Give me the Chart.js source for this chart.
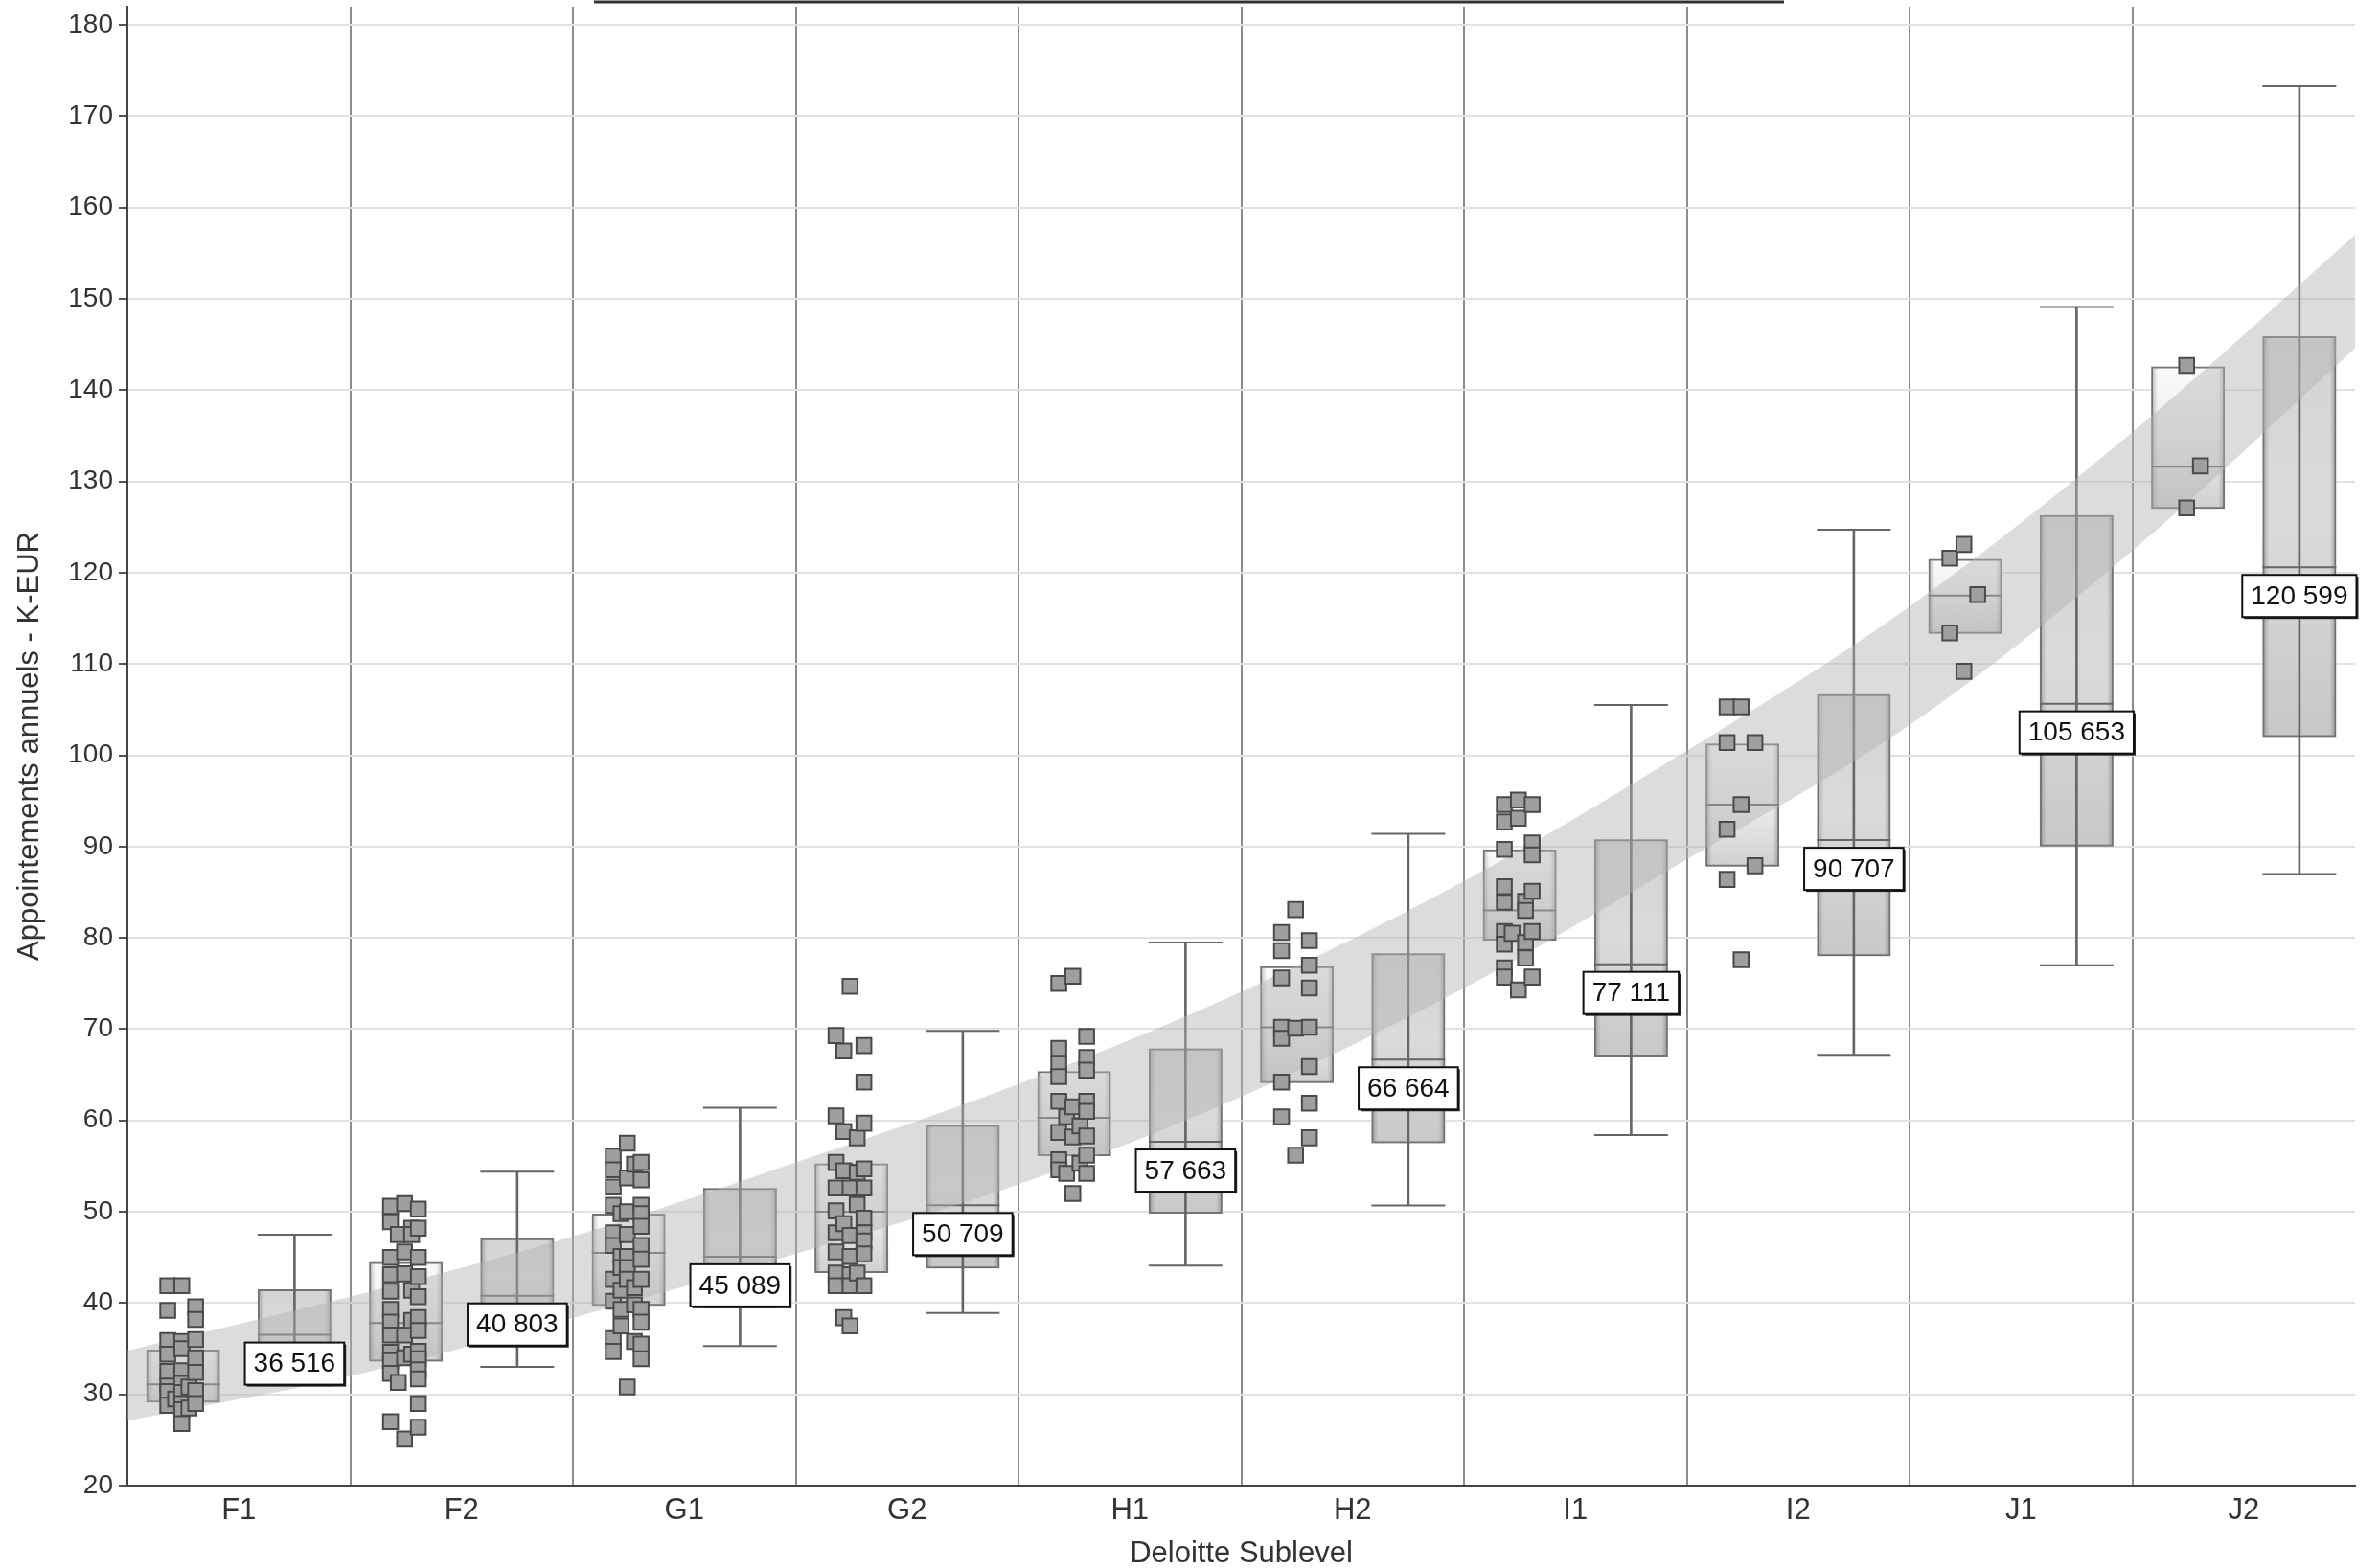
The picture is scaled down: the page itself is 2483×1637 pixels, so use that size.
<!DOCTYPE html>
<html>
<head>
<meta charset="utf-8">
<script src="https://cdn.jsdelivr.net/npm/chart.js@4.4.1/dist/chart.umd.min.js"></script>
<style>
  html, body { margin: 0; padding: 0; background: #fff; }
  #wrap { width: 2483px; height: 1637px; }
</style>
</head>
<body>
<div id="wrap"><canvas id="chart" width="2483" height="1637"></canvas></div>
<script>
// categories and tick values
const categories = ['F1', 'F2', 'G1', 'G2', 'H1', 'H2', 'I1', 'I2', 'J1', 'J2'];
const yTicks = [20, 30, 40, 50, 60, 70, 80, 90, 100, 110, 120, 130, 140, 150, 160, 170, 180];

// sample box (light) per sublevel, K-EUR
const sampleQ1 = [29.1, 33.6, 39.7, 43.3, 56.1, 64.1, 79.7, 87.8, 113.3, 127.0];
const sampleMedian = [31.1, 37.8, 45.5, 50.0, 60.3, 70.2, 83.0, 94.6, 117.5, 131.6];
const sampleQ3 = [34.9, 44.5, 49.8, 55.3, 65.4, 76.9, 89.7, 101.3, 121.5, 142.6];

// market box (dark) with whiskers, K-EUR
const marketLow = [31.0, 33.0, 35.3, 38.9, 44.1, 50.7, 58.4, 67.2, 77.0, 87.0];
const marketQ1 = [31.0, 37.5, 39.4, 43.8, 49.8, 57.5, 67.0, 78.0, 90.0, 102.0];
const marketMedian = [36.516, 40.803, 45.089, 50.709, 57.663, 66.664, 77.111, 90.707, 105.653, 120.599];
const marketQ3 = [41.5, 47.1, 52.6, 59.5, 67.9, 78.3, 90.8, 106.7, 126.3, 145.9];
const marketHigh = [47.5, 54.4, 61.4, 69.8, 79.5, 91.4, 105.5, 124.7, 149.1, 173.3];

// trend band, read at each category boundary (0..10)
const bandLow = [27.1, 32.0, 38.4, 45.4, 53.0, 62.6, 74.5, 88.6, 103.3, 122.4, 144.6];
const bandHigh = [34.8, 40.7, 47.3, 55.4, 64.0, 74.1, 86.2, 100.5, 116.3, 135.4, 157.0];

// individual salaries per sublevel, grouped in 5 jitter columns
const ptsF1 = [[41.9, 39.2, 35.9, 34.4, 32.5, 30.9, 30.3, 28.8], [29.5], [41.9, 35.8, 35.0, 32.6, 31.2, 30.2, 29.0, 28.3, 26.8], [30.8, 28.5], [39.6, 38.2, 36.0, 34.0, 32.4, 30.4, 29.0]];
const ptsF2 = [[50.6, 48.9, 45.0, 43.1, 41.3, 39.3, 37.9, 36.5, 34.6, 33.7, 32.3, 27.0], [47.5, 31.3], [50.9, 45.6, 43.2, 36.5, 34.0, 25.1], [48.2, 47.5, 41.4, 38.1, 34.4], [50.3, 48.2, 45.0, 42.9, 40.7, 38.4, 37.0, 34.7, 33.9, 32.7, 31.7, 29.0, 26.4]];
const ptsG1 = [[56.1, 54.6, 52.7, 50.7, 47.7, 46.3, 42.6, 40.2, 36.1, 34.7], [49.8, 45.1, 43.9, 41.4, 39.3, 37.5], [57.5, 53.7, 50.0, 47.5, 45.1, 43.9, 42.6, 30.8], [55.2, 41.7, 39.8, 35.8], [55.4, 53.5, 50.7, 49.8, 48.4, 46.3, 44.8, 42.6, 39.3, 37.9, 35.5, 33.9]];
const ptsG2 = [[69.3, 60.5, 55.4, 52.6, 50.1, 47.7, 45.6, 43.3, 41.9], [67.6, 58.8, 54.5, 48.7, 38.4], [74.7, 52.6, 47.4, 45.1, 43.1, 41.9, 37.5], [58.1, 54.3, 50.8, 43.3], [68.2, 64.2, 59.7, 54.7, 52.6, 49.3, 47.7, 46.8, 45.4, 41.9]];
const ptsH1 = [[75.0, 67.9, 66.2, 64.8, 62.1, 58.7, 55.7, 54.6], [60.4, 54.2], [75.8, 61.5, 58.2, 52.0], [59.4, 55.3], [69.2, 66.9, 65.5, 62.1, 61.0, 58.3, 56.2, 54.2]];
const ptsH2 = [[80.6, 78.6, 75.6, 70.2, 69.0, 64.2, 60.4], [], [83.1, 70.1, 56.2], [], [79.7, 77.0, 74.5, 70.2, 65.9, 61.9, 58.1]];
const ptsI1 = [[94.6, 92.7, 89.7, 85.6, 83.9, 80.7, 79.3, 76.7, 75.7], [80.5], [95.1, 93.1, 74.3], [84.0, 83.0, 79.5, 77.8], [94.6, 90.4, 89.1, 85.1, 80.7, 75.7]];
const ptsI2 = [[105.3, 101.4, 91.9, 86.4], [], [105.3, 94.6, 77.6], [], [101.4, 87.9]];
const ptsJ1 = [[121.6, 113.4], [], [123.1, 109.2], [], [117.6]];
const ptsJ2 = [[], [], [142.7, 127.1], [], [131.7]];
const samplePoints = [ptsF1, ptsF2, ptsG1, ptsG2, ptsH1, ptsH2, ptsI1, ptsI2, ptsJ1, ptsJ2];

// layout helpers (category i spans [i, i+1] on x)
const SAMPLE_POS = 0.25;
const MARKET_POS = 0.75;
const JITTER = [-0.069, -0.034, -0.006, 0.026, 0.056];
const BOX_PCT = 0.662;
const FONT = "'Liberation Sans', Arial, sans-serif";

const sampleBoxes = categories.map((c, i) => ({ x: i + SAMPLE_POS, y: [sampleQ1[i], sampleQ3[i]] }));
const marketBoxes = categories.map((c, i) => ({ x: i + MARKET_POS, y: [marketQ1[i], marketQ3[i]] }));
const whiskers = categories.map((c, i) => ({ x: i + MARKET_POS, y: [marketLow[i], marketHigh[i]] }));
const caps = [];
categories.forEach((c, i) => {
  caps.push({ x: i + MARKET_POS, y: marketLow[i] });
  caps.push({ x: i + MARKET_POS, y: marketHigh[i] });
});
const medians = [];
categories.forEach((c, i) => {
  medians.push({ x: i + SAMPLE_POS, y: sampleMedian[i] });
  medians.push({ x: i + MARKET_POS, y: marketMedian[i] });
});
const pointData = [];
samplePoints.forEach((cols, i) => {
  cols.forEach((col, c) => {
    col.forEach(v => pointData.push({ x: i + SAMPLE_POS + JITTER[c], y: v }));
  });
});
const bandHighData = bandHigh.map((v, k) => ({ x: k, y: v }));
const bandLowData = bandLow.map((v, k) => ({ x: k, y: v }));

function fmt(v) {
  return String(Math.round(v * 1000)).replace(/\B(?=(\d{3})+(?!\d))/g, ' ');
}

// vertical shading of a box
function boxFill(stops) {
  return function (ctx) {
    const chart = ctx.chart;
    if (!chart.chartArea || !ctx.raw || !ctx.raw.y) return stops[1][1];
    const ys = chart.scales.y;
    const top = ys.getPixelForValue(ctx.raw.y[1]);
    const bot = ys.getPixelForValue(ctx.raw.y[0]);
    const g = chart.ctx.createLinearGradient(0, top, 0, bot);
    stops.forEach(s => g.addColorStop(s[0], s[1]));
    return g;
  };
}

// bevel on the left/right edges of a box
function edgeFill(ctx) {
  const chart = ctx.chart;
  if (!chart.chartArea || !ctx.raw) return 'rgba(0,0,0,0)';
  const xs = chart.scales.x;
  const half = (xs.getPixelForValue(0.5) - xs.getPixelForValue(0)) * BOX_PCT / 2;
  const cx = xs.getPixelForValue(ctx.raw.x);
  const g = chart.ctx.createLinearGradient(cx - half, 0, cx + half, 0);
  g.addColorStop(0, 'rgba(0,0,0,0.25)');
  g.addColorStop(0.09, 'rgba(0,0,0,0)');
  g.addColorStop(0.91, 'rgba(0,0,0,0)');
  g.addColorStop(1, 'rgba(0,0,0,0.25)');
  return g;
}

const medianLabels = {
  id: 'medianLabels',
  afterDatasetsDraw(chart) {
    const { ctx, scales } = chart;
    ctx.save();
    ctx.font = '28px ' + FONT;
    ctx.textAlign = 'center';
    ctx.textBaseline = 'middle';
    marketMedian.forEach((m, i) => {
      const x = scales.x.getPixelForValue(i + MARKET_POS);
      const y = scales.y.getPixelForValue(m) + 30;
      const text = fmt(m);
      const w = ctx.measureText(text).width + 18;
      const h = 44;
      ctx.fillStyle = '#222';
      ctx.fillRect(x - w / 2 + 2, y - h / 2 + 2, w, h);
      ctx.fillStyle = '#fff';
      ctx.fillRect(x - w / 2, y - h / 2, w, h);
      ctx.strokeStyle = '#111';
      ctx.lineWidth = 2;
      ctx.strokeRect(x - w / 2, y - h / 2, w, h);
      ctx.fillStyle = '#111';
      ctx.fillText(text, x, y + 1);
    });
    ctx.restore();
  }
};

// the title sits above the visible area; only its underline shows
const titleRule = {
  id: 'titleRule',
  afterDraw(chart) {
    const ctx = chart.ctx;
    ctx.save();
    ctx.strokeStyle = '#333';
    ctx.lineWidth = 3;
    ctx.beginPath();
    ctx.moveTo(620, 2);
    ctx.lineTo(1862, 2);
    ctx.stroke();
    ctx.restore();
  }
};

new Chart(document.getElementById('chart'), {
  type: 'bar',
  data: {
    datasets: [
      {
        label: 'sample box',
        data: sampleBoxes,
        backgroundColor: boxFill([[0, '#fbfbfb'], [0.5, '#ececec'], [1, '#d0d0d0']]),
        borderWidth: 0,
        grouped: false,
        barPercentage: BOX_PCT,
        categoryPercentage: 1,
        order: 10
      },
      {
        label: 'market box',
        data: marketBoxes,
        backgroundColor: boxFill([[0, '#d4d4d4'], [0.45, '#dadada'], [1, '#c8c8c8']]),
        borderWidth: 0,
        grouped: false,
        barPercentage: BOX_PCT,
        categoryPercentage: 1,
        order: 10
      },
      {
        label: 'box edges',
        data: sampleBoxes.concat(marketBoxes),
        backgroundColor: edgeFill,
        borderColor: '#737373',
        borderWidth: 2,
        borderSkipped: false,
        grouped: false,
        barPercentage: BOX_PCT,
        categoryPercentage: 1,
        order: 9
      },
      {
        label: 'whisker',
        data: whiskers,
        backgroundColor: '#666',
        borderWidth: 0,
        grouped: false,
        barThickness: 2,
        order: 8
      },
      {
        type: 'scatter',
        label: 'caps',
        data: caps,
        pointStyle: 'line',
        pointRadius: 38.5,
        borderColor: '#666',
        borderWidth: 2,
        order: 8
      },
      {
        type: 'scatter',
        label: 'medians',
        data: medians,
        pointStyle: 'line',
        pointRadius: 38.5,
        borderColor: '#666',
        borderWidth: 2,
        order: 8
      },
      {
        type: 'line',
        label: 'band high',
        data: bandHighData,
        borderWidth: 0,
        borderColor: 'rgba(0,0,0,0)',
        pointRadius: 0,
        cubicInterpolationMode: 'monotone',
        fill: '+1',
        backgroundColor: 'rgba(178,178,178,0.45)',
        order: 5
      },
      {
        type: 'line',
        label: 'band low',
        data: bandLowData,
        borderWidth: 0,
        borderColor: 'rgba(0,0,0,0)',
        pointRadius: 0,
        cubicInterpolationMode: 'monotone',
        fill: false,
        order: 5
      },
      {
        type: 'scatter',
        label: 'salaries',
        data: pointData,
        pointStyle: 'rect',
        pointRadius: 11,
        backgroundColor: '#9f9f9f',
        borderColor: '#4a4a4a',
        borderWidth: 2,
        order: 1
      }
    ]
  },
  options: {
    responsive: false,
    animation: false,
    events: [],
    layout: { autoPadding: false, padding: { top: 7, right: 25, left: 0, bottom: 0 } },
    plugins: {
      legend: { display: false },
      tooltip: { enabled: false }
    },
    scales: {
      x: {
        type: 'linear',
        min: 0,
        max: 10,
        offset: false,
        afterBuildTicks(axis) {
          axis.ticks = Array.from({ length: 21 }, (_, k) => ({ value: k / 2 }));
        },
        afterFit(axis) {
          axis.height = 86;
          axis.paddingLeft = 0;
          axis.paddingRight = 0;
        },
        ticks: {
          autoSkip: false,
          maxRotation: 0,
          padding: 8,
          color: '#333',
          font: { family: FONT, size: 31 },
          callback(v) {
            return Math.abs((v % 1) - 0.5) < 1e-6 ? categories[Math.floor(v)] : '';
          }
        },
        grid: {
          offset: false,
          drawTicks: false,
          lineWidth: 2,
          color(c) {
            const v = c.tick ? c.tick.value : -1;
            return Number.isInteger(v) && v > 0 && v < 10 ? '#8c8c8c' : 'rgba(0,0,0,0)';
          }
        },
        border: { color: '#444', width: 2 },
        title: {
          display: true,
          text: 'Deloitte Sublevel',
          color: '#333',
          font: { family: FONT, size: 31, lineHeight: 0.85 },
          padding: { top: 0, bottom: 1 }
        }
      },
      y: {
        min: 20,
        max: 182,
        afterBuildTicks(axis) {
          axis.ticks = yTicks.map(v => ({ value: v }));
        },
        afterFit(axis) {
          axis.width = 133;
          axis.paddingTop = 0;
          axis.paddingBottom = 0;
        },
        ticks: {
          padding: 6,
          color: '#333',
          font: { family: FONT, size: 28 }
        },
        grid: {
          color: '#e2e2e2',
          lineWidth: 2,
          tickLength: 9,
          tickColor: '#555',
          tickWidth: 2
        },
        border: { color: '#444', width: 2 },
        title: {
          display: true,
          text: 'Appointements annuels - K-EUR',
          color: '#333',
          font: { family: FONT, size: 31, lineHeight: 1 },
          padding: { top: 16, bottom: 0 }
        }
      }
    }
  },
  plugins: [medianLabels, titleRule]
});
</script>
</body>
</html>
